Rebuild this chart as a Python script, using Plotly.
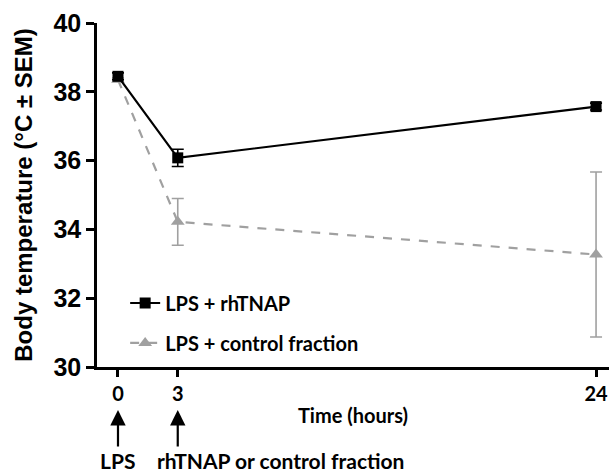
import plotly.graph_objects as go

time_h = [0, 3, 24]
rhtnap_mean = [38.45, 36.08, 37.57]
rhtnap_sem = [0.1, 0.25, 0.1]
control_mean = [38.35, 34.22, 33.27]
control_sem = [0.05, 0.68, 2.4]
x_ticks = [0, 3, 24]
y_ticks = [30, 32, 34, 36, 38, 40]

ARIAL = "Liberation Sans, Arial, sans-serif"
CAL = "Lato, Open Sans, sans-serif"
GRAY = "#a0a0a0"

fig = go.Figure()
fig.add_trace(go.Scatter(
    x=time_h, y=control_mean, name="LPS + control fraction", mode="lines+markers",
    line=dict(color=GRAY, width=2.2, dash="dash"),
    marker=dict(symbol="triangle-up", size=12, color=GRAY),
    error_y=dict(type="data", array=control_sem, color=GRAY, thickness=1.6, width=6),
    legend="legend2",
))
fig.add_trace(go.Scatter(
    x=time_h, y=rhtnap_mean, name="LPS + rhTNAP", mode="lines+markers",
    line=dict(color="black", width=2.2),
    marker=dict(symbol="square", size=11, color="black"),
    error_y=dict(type="data", array=rhtnap_sem, color="black", thickness=1.6, width=6),
    legend="legend",
))

leg_font = dict(family=CAL, size=20, color="black", weight="bold")
fig.update_layout(
    width=609, height=472,
    margin=dict(l=97, r=0, t=23, b=105),
    plot_bgcolor="white", paper_bgcolor="white",
    showlegend=True,
    legend=dict(x=0.055, y=0.186, xanchor="left", yanchor="middle",
                font=leg_font, bgcolor="rgba(0,0,0,0)", itemwidth=30),
    legend2=dict(x=0.055, y=0.070, xanchor="left", yanchor="middle",
                 font=leg_font, bgcolor="rgba(0,0,0,0)", itemwidth=30),
    xaxis=dict(range=[-1.054, 24.65], tickvals=x_ticks, ticktext=[str(v) for v in x_ticks],
               showgrid=False, zeroline=False, showline=True, linecolor="black", linewidth=2.5,
               ticks="outside", ticklen=7, tickwidth=2.5, tickcolor="black",
               tickfont=dict(family=CAL, size=20, color="black", weight="bold"),
               title=dict(text="Time (hours)", font=dict(family=CAL, size=20, color="black", weight="bold"),
                          standoff=6)),
    yaxis=dict(range=[30, 40], tickvals=y_ticks, showgrid=False, zeroline=False,
               showline=True, linecolor="black", linewidth=2.5,
               ticks="outside", ticklen=8, tickwidth=2.5, tickcolor="black",
               tickfont=dict(family=ARIAL, size=25, color="black", weight="bold"),
               title=dict(text="Body temperature (°C ± SEM)",
                          font=dict(family=ARIAL, size=24, color="black", weight="bold"), standoff=15)),
)

for xv in [0, 3]:
    fig.add_annotation(x=xv, xref="x", y=-0.125, yref="paper", ax=0, ay=38, text="",
                       showarrow=True, arrowhead=2, arrowsize=1.4, arrowwidth=2.2, arrowcolor="black")

fig.add_annotation(x=0, xref="x", y=-0.273, yref="paper", text="LPS", showarrow=False,
                   font=dict(family=CAL, size=21, color="black", weight="bold"), yanchor="middle")
fig.add_annotation(x=(280 - 97) / 512, xref="paper", y=-0.273, yref="paper",
                   text="rhTNAP or control fraction", showarrow=False,
                   font=dict(family=CAL, size=21, color="black", weight="bold"), yanchor="middle")

fig.write_html("out.html", config={"displayModeBar": False},
               post_script="document.body.style.margin='0';")
